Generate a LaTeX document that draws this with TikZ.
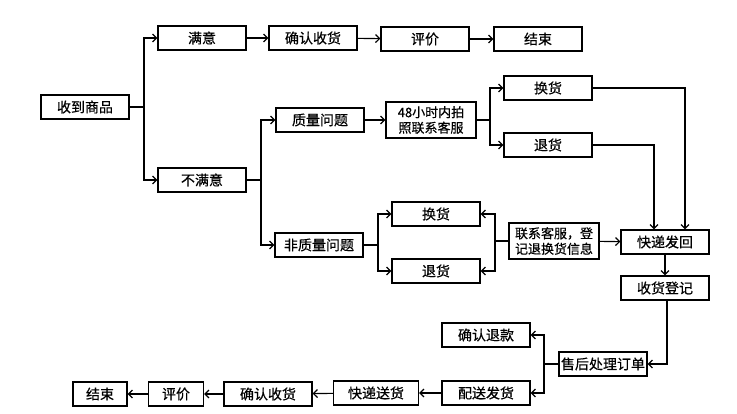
\documentclass[tikz,border=0pt]{standalone}
\usepackage{fontspec}
\setmainfont{Noto Sans CJK SC}[FakeBold=0.5]
\usetikzlibrary{arrows.meta}
\begin{document}
\begin{tikzpicture}[x=1pt,y=-1pt,
  box/.style={draw, line width=1.2pt, minimum height=24pt, minimum width=88pt, inner sep=0pt, font=\fontsize{14}{15}\selectfont},
  twoline/.style={box, minimum height=36pt, minimum width=90pt, align=center, font=\fontsize{13}{15.5}\selectfont},
  arr/.style={-{Straight Barb[length=4pt,width=8pt,line width=1.2pt]}, line width=1.1pt},
  ln/.style={line width=1.1pt}]
\useasboundingbox (0,0) rectangle (737,414);
\fill[white] (0,0) rectangle (737,414);

\node[box] (recv) at (85,107) {收到商品};
\node[box] (sat) at (202,38) {满意};
\node[box] (conf1) at (313,38) {确认收货};
\node[box] (eval1) at (425,39) {评价};
\node[box] (end1) at (538,39) {结束};
\node[box] (unsat) at (202,180) {不满意};
\node[box] (qual) at (320,120) {质量问题};
\node[twoline] (photo) at (431,120) {48小时内拍\\照联系客服};
\node[box] (exA) at (548,88) {换货};
\node[box] (retA) at (548,145) {退货};
\node[box] (nqual) at (319,245) {非质量问题};
\node[box] (exB) at (436,214) {换货};
\node[box] (retB) at (436,271) {退货};
\node[twoline] (contact) at (554,241) {联系客服，登\\记退换货信息};
\node[box] (back) at (665,242) {快递发回};
\node[box] (reg) at (665,288) {收货登记};
\node[box] (after) at (603,364) {售后处理订单};
\node[box] (refund) at (486,335) {确认退款};
\node[box] (ship) at (486,393) {配送发货};
\node[box, minimum width=85pt] (deliv) at (376,393) {快递送货};
\node[box] (conf2) at (268,394) {确认收货};
\node[box, minimum width=55pt] (eval2) at (176,394) {评价};
\node[box, minimum width=54pt] (end2) at (100,394) {结束};

\coordinate (j1) at (144,107);
\coordinate (j2) at (261,180);
\coordinate (j3) at (490,120);
\coordinate (j4) at (378,245);
\coordinate (j5) at (495,241);
\coordinate (j6) at (544,364);

\draw[ln] (recv.east) -- (j1);
\draw[arr] (j1) |- (sat.west);
\draw[arr] (j1) |- (unsat.west);
\draw[arr] (sat) -- (conf1);
\draw[arr] (conf1) -- (eval1);
\draw[arr] (eval1) -- (end1);

\draw[ln] (unsat.east) -- (j2);
\draw[arr] (j2) |- (qual.west);
\draw[arr] (j2) |- (nqual.west);
\draw[arr] (qual) -- (photo);

\draw[ln] (photo.east) -- (j3);
\draw[arr] (j3) |- (exA.west);
\draw[arr] (j3) |- (retA.west);

\draw[ln] (nqual.east) -- (j4);
\draw[arr] (j4) |- (exB.west);
\draw[arr] (j4) |- (retB.west);

\draw[ln] (contact.west) -- (j5);
\draw[arr] (j5) |- (exB.east);
\draw[arr] (j5) |- (retB.east);
\draw[arr] (contact) -- (back);

\draw[arr] (exA.east) -| ([xshift=20pt]back.north);
\draw[arr] (retA.east) -| ([xshift=-11pt]back.north);
\draw[arr] (back) -- (reg);
\draw[arr] ([xshift=2pt]reg.south) |- (after.east);

\draw[ln] (after.west) -- (j6);
\draw[arr] (j6) |- (refund.east);
\draw[arr] (j6) |- (ship.east);
\draw[arr] (ship) -- (deliv);
\draw[arr] (deliv) -- (conf2);
\draw[arr] (conf2) -- (eval2);
\draw[arr] (eval2) -- (end2);
\end{tikzpicture}
\end{document}
